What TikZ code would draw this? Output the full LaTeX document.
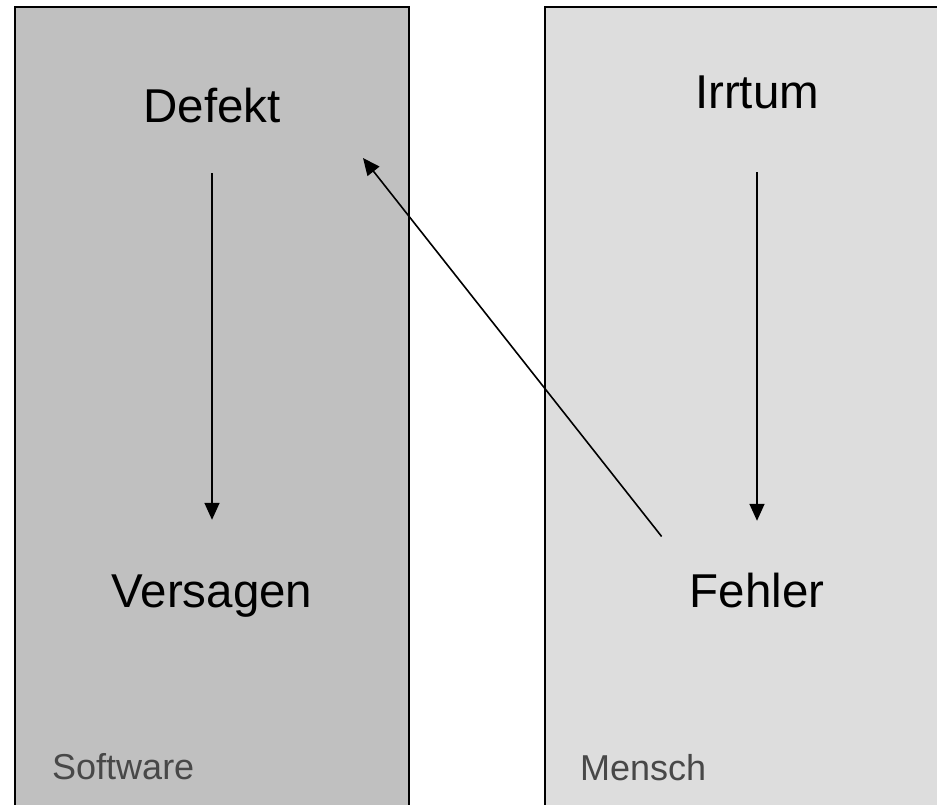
\documentclass[tikz,border=0pt]{standalone}
\usepackage{fontspec}
\setmainfont{Liberation Sans}
\usepackage{xcolor}
\usetikzlibrary{arrows.meta}
\definecolor{softwaregrau}{RGB}{192,192,192}
\definecolor{menschgrau}{RGB}{221,221,221}
\definecolor{schriftgrau}{RGB}{72,72,72}

\begin{document}
\begin{tikzpicture}[
                x=1pt, y=-1pt,
                feld/.style={draw=black, line width=2pt},
                begriff/.style={inner sep=0pt, anchor=base, text height=35pt, text depth=10pt,
                    font=\fontsize{47.5}{52}\selectfont},
                bereich/.style={inner sep=0pt, anchor=base west, text=schriftgrau,
                    font=\fontsize{36}{40}\selectfont},
                pfeil/.style={-{Triangle[length=17pt,width=15pt]}, line width=1.6pt}]
            \useasboundingbox (0,0) rectangle (937,805);
            \clip (0,0) rectangle (937,805);
            \filldraw[feld, fill=softwaregrau] (15,7) rectangle (409,830);
            \filldraw[feld, fill=menschgrau] (544.5,7) rectangle (960,830);
            \node[begriff] (defekt) at (212,123) {Defekt};
            \node[begriff] (versagen) at (212,607) {Versagen};
            \node[begriff] (irrtum) at (757,109) {Irrtum};
            \node[begriff] (fehler) at (757,607) {Fehler};
            \node[bereich] (software) at (52,779) {Software};
            \node[bereich] (mensch) at (580,780) {Mensch};
            \coordinate (ziel) at (363,158);
            \draw[pfeil, shorten <=40pt, shorten >=52pt] (defekt.south) -- (versagen.north);
            \draw[pfeil, shorten <=53pt, shorten >=51pt] (irrtum.south) -- (fehler.north);
            \draw[pfeil, shorten <=45pt] (fehler.north west) -- (ziel);
        \end{tikzpicture}
\end{document}
